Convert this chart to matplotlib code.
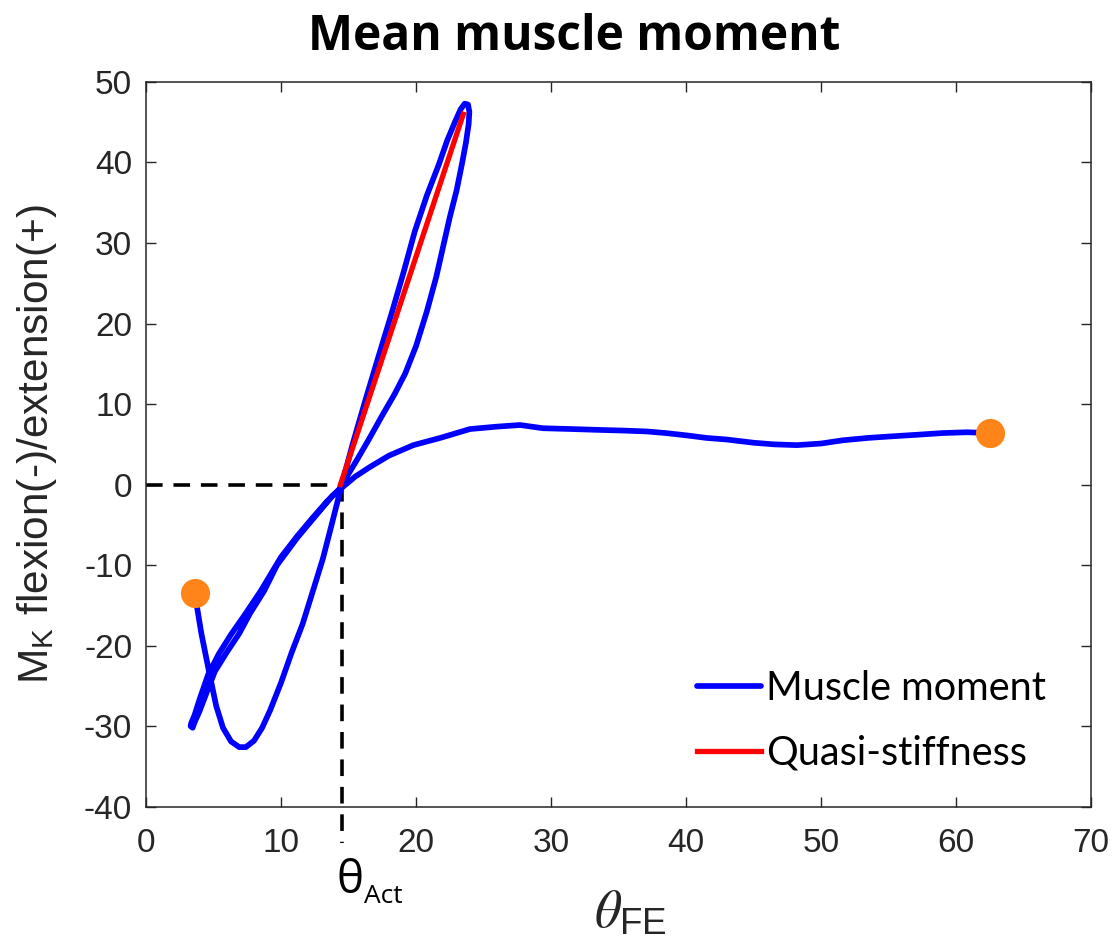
import matplotlib
matplotlib.use("Agg")
import matplotlib.pyplot as plt
from matplotlib.transforms import blended_transform_factory

plt.rcParams['font.family'] = ['Liberation Sans', 'DejaVu Sans']
plt.rcParams['mathtext.fontset'] = 'stix'
plt.rcParams['axes.unicode_minus'] = False

# Knee flexion/extension angle (deg) and mean muscle moment along the cycle
theta_fe = [
    3.6, 4.1, 4.7, 5.2, 5.7, 6.3, 6.9, 7.4, 8.0, 8.6, 9.2, 10.0, 10.8, 11.6,
    12.4, 13.1, 13.7, 14.2, 14.5,
    15.3, 16.2, 17.2, 18.2, 19.1, 19.9, 20.8, 21.7, 22.3, 22.9, 23.3, 23.6,
    23.85, 23.95, 23.9, 23.7, 23.4, 23.0, 22.5, 22.0, 21.5, 20.8, 20.0, 19.2,
    18.4, 17.5, 16.5, 15.6, 14.8, 14.3,
    13.4, 12.3, 11.2, 10.0, 8.5, 7.3, 6.3, 5.4, 4.6, 4.0, 3.6, 3.35, 3.3, 3.45,
    3.6, 3.95, 4.45, 5.1, 5.95, 6.9, 7.7, 8.75, 9.7, 11.2, 12.7, 13.8, 14.5,
    15.5, 16.6, 18.0, 19.8, 21.8, 24.0, 26.0, 27.7, 29.4, 31.5, 33.4, 35.5,
    37.1, 38.5, 40.1, 41.5, 43.0, 45.0, 46.5, 48.2, 50.0, 51.6, 53.5, 55.3,
    57.2, 59.0, 60.8, 62.5,
]
moment = [
    -13.4, -18.5, -23.5, -27.5, -30.2, -31.9, -32.6, -32.6, -31.8, -30.2,
    -28.0, -24.6, -20.8, -17.3, -13.0, -9.2, -5.3, -2.0, 0.0,
    5.0, 10.2, 15.8, 21.3, 26.5, 31.4, 35.9, 39.8, 42.7, 45.1, 46.6, 47.3,
    47.2, 46.3, 44.8, 42.5, 39.8, 36.5, 33.2, 29.5, 25.8, 21.5, 17.2, 13.8,
    11.2, 8.6, 5.6, 3.0, 0.8, -0.6,
    -2.1, -4.2, -6.4, -9.0, -13.2, -16.2, -18.6, -21.0, -23.6, -26.5, -28.6,
    -29.6, -30.0, -30.2,
    -29.5, -28.2, -26.0, -23.2, -20.9, -18.5, -16.0, -13.2, -10.0, -6.6,
    -3.6, -1.4, -0.4,
    1.0, 2.2, 3.6, 4.9, 5.8, 6.9, 7.2, 7.4, 7.0, 6.9, 6.8, 6.7,
    6.6, 6.4, 6.1, 5.8, 5.6, 5.2, 5.0, 4.9, 5.1, 5.5, 5.8, 6.0,
    6.2, 6.4, 6.5, 6.4,
]

# Quasi-stiffness fit from the activation point to the moment peak
stiff_theta = [14.4, 23.5]
stiff_moment = [0.0, 46.0]

theta_act = 14.5

x_ticks = [0, 10, 20, 30, 40, 50, 60, 70]
y_ticks = [-40, -30, -20, -10, 0, 10, 20, 30, 40, 50]

fig = plt.figure(figsize=(11.19, 9.40), dpi=100)
ax = fig.add_axes([0.1305, 0.1418, 0.8445, 0.7710])

ax.plot(theta_fe, moment, color='#0000FF', lw=4.1, solid_capstyle='round',
        solid_joinstyle='round', label='Muscle moment', zorder=3)
ax.plot(stiff_theta, stiff_moment, color='#FF0000', lw=3.8,
        label='Quasi-stiffness', zorder=4)
ax.plot([theta_fe[0], theta_fe[-1]], [moment[0], moment[-1]], 'o',
        color='#FF851B', ms=21, mec='none', zorder=5)

# Activation angle guides
ax.plot([0, theta_act], [0, 0], color='black', lw=2.6, ls=(0, (4.6, 3.0)),
        zorder=2)
ax.plot([theta_act, theta_act], [0, -44.5], color='black', lw=2.6,
        ls=(0, (4.6, 3.0)), zorder=2, clip_on=False)

ax.set_xlim(0, 70)
ax.set_ylim(-40, 50)
ax.set_xticks(x_ticks)
ax.set_yticks(y_ticks)

for s in ax.spines.values():
    s.set_color('#262626')
    s.set_linewidth(1.1)
ax.tick_params(direction='in', length=7, width=1.0, color='#262626',
               labelcolor='#262626', labelsize=24, top=True, right=True)
ax.tick_params(axis='x', pad=15)
ax.tick_params(axis='y', pad=10)

ax.set_ylabel(r'M$_{\mathregular{K}}$ flexion(-)/extension(+)', fontsize=30.5,
              color='#262626')
ax.yaxis.set_label_coords(-0.092, 0.5)

ax.set_xlabel(r'$\theta_{\mathregular{FE}}$', fontsize=38, color='#262626')
ax.xaxis.set_label_coords(0.513, -0.113)

trans = blended_transform_factory(ax.transData, fig.transFigure)
ax.text(theta_act - 0.4, 1 - 893 / 940, 'θ', transform=trans, fontsize=33,
        family='Open Sans', ha='left', va='baseline', clip_on=False)
ax.text(theta_act + 1.65, 1 - 903 / 940, 'Act', transform=trans, fontsize=19,
        family='Open Sans', ha='left', va='baseline', clip_on=False)

leg = ax.legend(loc='upper left', bbox_to_anchor=(0.583, 0.189), frameon=False,
                prop={'family': 'Lato', 'size': 28.5}, handlelength=1.62,
                handletextpad=0.12, labelspacing=0.7, borderpad=0,
                borderaxespad=0)

fig.text(0.513, 1 - 50 / 940, 'Mean muscle moment', ha='center', va='baseline',
         fontsize=34.5, fontweight='bold', family='Open Sans')

fig.savefig('out.png', dpi=100)
